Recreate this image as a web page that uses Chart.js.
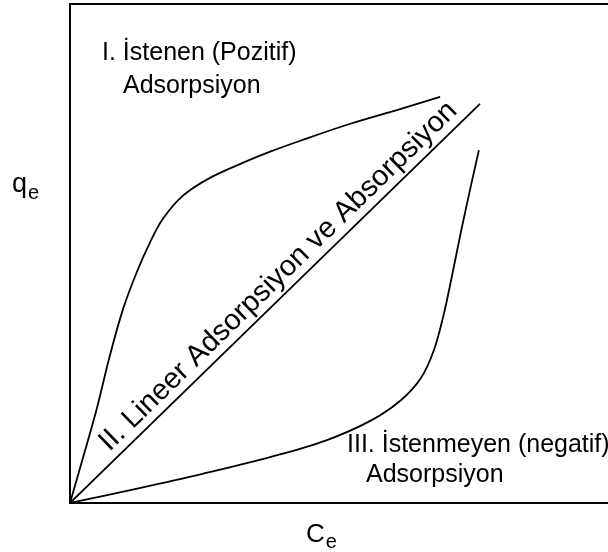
<!DOCTYPE html>
<html>
<head>
<meta charset="utf-8">
<script src="https://cdn.jsdelivr.net/npm/chart.js"></script>
<style>
  html, body { margin: 0; padding: 0; background: #fff; }
</style>
</head>
<body>
<canvas id="isothermChart" width="608" height="552"></canvas>
<script>
// Adsorpsiyon izoterm tipleri (Ce - qe), keyfi birimler 0-100
const pozitifCe = [0, 2.4, 5.0, 7.4, 9.9, 12.5, 14.9, 17.3, 21.0, 26.1, 32.2, 37.2, 42.8, 52.1, 61.5, 68.8];
const pozitifQe = [0, 9.0, 19.0, 29.5, 39.0, 46.5, 52.3, 57.0, 61.6, 65.2, 68.2, 70.4, 72.6, 76.0, 79.0, 81.4];

const lineerCe = [0, 76.2];
const lineerQe = [0, 80.0];

const negatifCe = [0, 12.5, 24.8, 37.2, 47.5, 55.9, 61.5, 65.2, 67.6, 69.4, 71.0, 72.6, 74.3, 76.0];
const negatifQe = [0, 2.9, 5.9, 9.2, 12.5, 16.5, 20.6, 25.0, 30.5, 37.5, 45.5, 54.0, 62.5, 70.7];

const FONT = '"Liberation Sans", Arial, Helvetica, sans-serif';

function toPoints(xs, ys) {
  return xs.map((x, i) => ({ x: x, y: ys[i] }));
}

// Draw the curve labels and axis names (with subscripts)
const labelPlugin = {
  id: "isothermLabels",
  afterDraw(chart) {
    const ctx = chart.ctx;
    const area = chart.chartArea;
    const xs = chart.scales.x;
    const ys = chart.scales.y;
    ctx.save();
    ctx.fillStyle = "#000";
    ctx.textBaseline = "alphabetic";
    ctx.textAlign = "left";
    ctx.font = "25px " + FONT;

    // I. positive
    ctx.fillText("I. İstenen (Pozitif)", area.left + 32, area.top + 56);
    ctx.fillText("Adsorpsiyon", area.left + 53, area.top + 89);

    // III. negative
    ctx.fillText("III. İstenmeyen (negatif)", area.left + 277, area.bottom - 51);
    ctx.fillText("Adsorpsiyon", area.left + 296, area.bottom - 21);

    // II. linear, rotated along the line
    const x0 = xs.getPixelForValue(lineerCe[0]);
    const y0 = ys.getPixelForValue(lineerQe[0]);
    const x1 = xs.getPixelForValue(lineerCe[1]);
    const y1 = ys.getPixelForValue(lineerQe[1]);
    ctx.save();
    ctx.translate(x0, y0);
    ctx.rotate(Math.atan2(y1 - y0, x1 - x0));
    ctx.font = "29px " + FONT;
    ctx.fillText("II. Lineer Adsorpsiyon ve Absorpsiyon", 64, -9);
    ctx.restore();

    // axis names
    ctx.font = "27px " + FONT;
    ctx.fillText("q", 12, 192);
    const qw = ctx.measureText("q").width;
    ctx.font = "26px " + FONT;
    ctx.fillText("C", 306, 542);
    const cw = ctx.measureText("C").width;
    ctx.font = "20px " + FONT;
    ctx.fillText("e", 12 + qw + 1, 199);
    ctx.fillText("e", 306 + cw + 1, 548);
    ctx.restore();
  },
};

function createChart() {
  const ctx = document.getElementById("isothermChart");

  const lineStyle = {
    borderColor: "#000",
    borderWidth: 1.8,
    pointRadius: 0,
    fill: false,
    tension: 0.35,
  };

  const data = {
    datasets: [
      Object.assign({ label: "I. İstenen (Pozitif) Adsorpsiyon", data: toPoints(pozitifCe, pozitifQe) }, lineStyle),
      Object.assign({ label: "II. Lineer Adsorpsiyon ve Absorpsiyon", data: toPoints(lineerCe, lineerQe) }, lineStyle),
      Object.assign({ label: "III. İstenmeyen (negatif) Adsorpsiyon", data: toPoints(negatifCe, negatifQe) }, lineStyle),
    ],
  };

  const hiddenAxis = {
    type: "linear",
    min: 0,
    max: 100,
    ticks: { display: false },
    grid: { display: false, drawTicks: false },
    border: { display: true, color: "#000", width: 2 },
  };

  const config = {
    type: "line",
    data: data,
    options: {
      responsive: false,
      animation: false,
      layout: { padding: { left: 70, top: 4, right: 0, bottom: 49 } },
      scales: {
        x: Object.assign({}, hiddenAxis, { position: "bottom" }),
        xTop: Object.assign({}, hiddenAxis, { position: "top" }),
        y: Object.assign({}, hiddenAxis, { position: "left" }),
      },
      plugins: {
        legend: { display: false },
        tooltip: { enabled: false },
      },
    },
    plugins: [labelPlugin],
  };

  new Chart(ctx.getContext("2d"), config);
}

createChart();
</script>
</body>
</html>
